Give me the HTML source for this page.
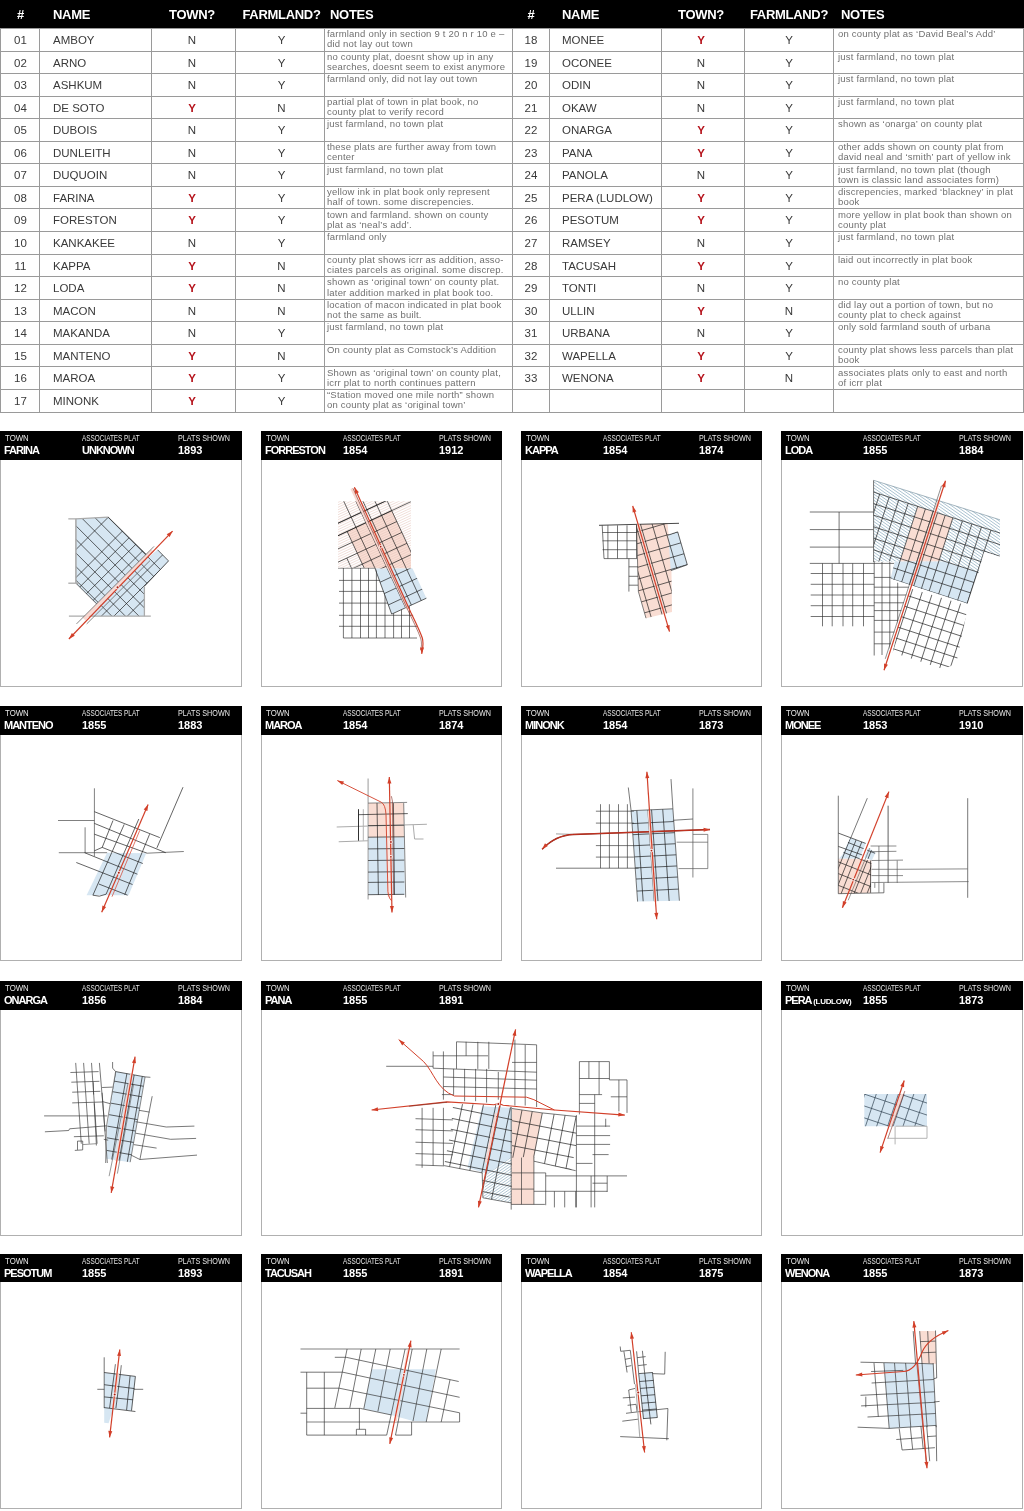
<!DOCTYPE html>
<html><head><meta charset="utf-8"><title>Associates plats</title>
<style>
html,body{margin:0;padding:0;background:#fff;}
body{width:1024px;height:1511px;position:relative;overflow:hidden;font-family:"Liberation Sans",sans-serif;}
.a{position:absolute;white-space:nowrap;}
.th{position:absolute;top:0;height:28px;background:#000;}
.hh{position:absolute;top:8px;color:#fff;font-weight:bold;font-size:13px;line-height:14px;letter-spacing:-0.3px;white-space:nowrap;}
.hl{position:absolute;background:#9a9a9a;height:1px;}
.vl{position:absolute;background:#9a9a9a;width:1px;}
.c{position:absolute;font-size:11.5px;line-height:22px;height:22px;color:#3a3a3a;white-space:nowrap;}
.ctr{text-align:center;}
.y{color:#b5121b;font-weight:bold;}
.n{position:absolute;font-size:9.5px;line-height:10.3px;color:#707070;white-space:nowrap;letter-spacing:0.2px;}
.p{position:absolute;border:1px solid #b0b0b0;box-sizing:border-box;background:#fff;}
.ph{position:absolute;background:#000;height:28.5px;}
.l1{position:absolute;top:3.1px;font-size:8.7px;line-height:9px;color:#e8e8e8;white-space:nowrap;transform-origin:0 0;}
.t1{transform:scaleX(0.9);}.t2{transform:scaleX(0.735);}.t3{transform:scaleX(0.83);}
.l2{position:absolute;top:13px;font-size:11px;line-height:12px;color:#fff;font-weight:bold;letter-spacing:-1px;white-space:nowrap;}
.l2.d{letter-spacing:0;}
.l2 small{font-size:8px;letter-spacing:-0.3px;}
svg{position:absolute;left:0;top:0;}
</style></head><body>

<div class="th" style="left:0px;width:512px"></div>
<div class="hh ctr" style="left:10.5px;width:20px">#</div>
<div class="hh" style="left:53px">NAME</div>
<div class="hh ctr" style="left:162.0px;width:60px">TOWN?</div>
<div class="hh ctr" style="left:236.5px;width:90px">FARMLAND?</div>
<div class="hh" style="left:330px">NOTES</div>
<div class="hl" style="left:0px;width:512px;top:28.00px"></div>
<div class="hl" style="left:0px;width:512px;top:50.56px"></div>
<div class="hl" style="left:0px;width:512px;top:73.12px"></div>
<div class="hl" style="left:0px;width:512px;top:95.68px"></div>
<div class="hl" style="left:0px;width:512px;top:118.24px"></div>
<div class="hl" style="left:0px;width:512px;top:140.80px"></div>
<div class="hl" style="left:0px;width:512px;top:163.36px"></div>
<div class="hl" style="left:0px;width:512px;top:185.92px"></div>
<div class="hl" style="left:0px;width:512px;top:208.48px"></div>
<div class="hl" style="left:0px;width:512px;top:231.04px"></div>
<div class="hl" style="left:0px;width:512px;top:253.60px"></div>
<div class="hl" style="left:0px;width:512px;top:276.16px"></div>
<div class="hl" style="left:0px;width:512px;top:298.72px"></div>
<div class="hl" style="left:0px;width:512px;top:321.28px"></div>
<div class="hl" style="left:0px;width:512px;top:343.84px"></div>
<div class="hl" style="left:0px;width:512px;top:366.40px"></div>
<div class="hl" style="left:0px;width:512px;top:388.96px"></div>
<div class="hl" style="left:0px;width:512px;top:411.52px"></div>
<div class="vl" style="left:0px;top:28px;height:383.52px"></div>
<div class="vl" style="left:39px;top:28px;height:383.52px"></div>
<div class="vl" style="left:151px;top:28px;height:383.52px"></div>
<div class="vl" style="left:235px;top:28px;height:383.52px"></div>
<div class="vl" style="left:324px;top:28px;height:383.52px"></div>
<div class="c ctr" style="left:5.5px;width:30px;top:29.00px">01</div>
<div class="c" style="left:53px;top:29.00px">AMBOY</div>
<div class="c ctr" style="left:177px;width:30px;top:29.00px">N</div>
<div class="c ctr" style="left:266.5px;width:30px;top:29.00px">Y</div>
<div class="n" style="left:327px;top:29.20px">farmland only in section 9 t 20 n r 10 e –<br>did not lay out town</div>
<div class="c ctr" style="left:5.5px;width:30px;top:51.56px">02</div>
<div class="c" style="left:53px;top:51.56px">ARNO</div>
<div class="c ctr" style="left:177px;width:30px;top:51.56px">N</div>
<div class="c ctr" style="left:266.5px;width:30px;top:51.56px">Y</div>
<div class="n" style="left:327px;top:51.76px">no county plat, doesnt show up in any<br>searches, doesnt seem to exist anymore</div>
<div class="c ctr" style="left:5.5px;width:30px;top:74.12px">03</div>
<div class="c" style="left:53px;top:74.12px">ASHKUM</div>
<div class="c ctr" style="left:177px;width:30px;top:74.12px">N</div>
<div class="c ctr" style="left:266.5px;width:30px;top:74.12px">Y</div>
<div class="n" style="left:327px;top:74.32px">farmland only, did not lay out town</div>
<div class="c ctr" style="left:5.5px;width:30px;top:96.68px">04</div>
<div class="c" style="left:53px;top:96.68px">DE SOTO</div>
<div class="c ctr y" style="left:177px;width:30px;top:96.68px">Y</div>
<div class="c ctr" style="left:266.5px;width:30px;top:96.68px">N</div>
<div class="n" style="left:327px;top:96.88px">partial plat of town in plat book, no<br>county plat to verify record</div>
<div class="c ctr" style="left:5.5px;width:30px;top:119.24px">05</div>
<div class="c" style="left:53px;top:119.24px">DUBOIS</div>
<div class="c ctr" style="left:177px;width:30px;top:119.24px">N</div>
<div class="c ctr" style="left:266.5px;width:30px;top:119.24px">Y</div>
<div class="n" style="left:327px;top:119.44px">just farmland, no town plat</div>
<div class="c ctr" style="left:5.5px;width:30px;top:141.80px">06</div>
<div class="c" style="left:53px;top:141.80px">DUNLEITH</div>
<div class="c ctr" style="left:177px;width:30px;top:141.80px">N</div>
<div class="c ctr" style="left:266.5px;width:30px;top:141.80px">Y</div>
<div class="n" style="left:327px;top:142.00px">these plats are further away from town<br>center</div>
<div class="c ctr" style="left:5.5px;width:30px;top:164.36px">07</div>
<div class="c" style="left:53px;top:164.36px">DUQUOIN</div>
<div class="c ctr" style="left:177px;width:30px;top:164.36px">N</div>
<div class="c ctr" style="left:266.5px;width:30px;top:164.36px">Y</div>
<div class="n" style="left:327px;top:164.56px">just farmland, no town plat</div>
<div class="c ctr" style="left:5.5px;width:30px;top:186.92px">08</div>
<div class="c" style="left:53px;top:186.92px">FARINA</div>
<div class="c ctr y" style="left:177px;width:30px;top:186.92px">Y</div>
<div class="c ctr" style="left:266.5px;width:30px;top:186.92px">Y</div>
<div class="n" style="left:327px;top:187.12px">yellow ink in plat book only represent<br>half of town. some discrepencies.</div>
<div class="c ctr" style="left:5.5px;width:30px;top:209.48px">09</div>
<div class="c" style="left:53px;top:209.48px">FORESTON</div>
<div class="c ctr y" style="left:177px;width:30px;top:209.48px">Y</div>
<div class="c ctr" style="left:266.5px;width:30px;top:209.48px">Y</div>
<div class="n" style="left:327px;top:209.68px">town and farmland. shown on county<br>plat as ‘neal’s add’.</div>
<div class="c ctr" style="left:5.5px;width:30px;top:232.04px">10</div>
<div class="c" style="left:53px;top:232.04px">KANKAKEE</div>
<div class="c ctr" style="left:177px;width:30px;top:232.04px">N</div>
<div class="c ctr" style="left:266.5px;width:30px;top:232.04px">Y</div>
<div class="n" style="left:327px;top:232.24px">farmland only</div>
<div class="c ctr" style="left:5.5px;width:30px;top:254.60px">11</div>
<div class="c" style="left:53px;top:254.60px">KAPPA</div>
<div class="c ctr y" style="left:177px;width:30px;top:254.60px">Y</div>
<div class="c ctr" style="left:266.5px;width:30px;top:254.60px">N</div>
<div class="n" style="left:327px;top:254.80px">county plat shows icrr as addition, asso-<br>ciates parcels as original. some discrep.</div>
<div class="c ctr" style="left:5.5px;width:30px;top:277.16px">12</div>
<div class="c" style="left:53px;top:277.16px">LODA</div>
<div class="c ctr y" style="left:177px;width:30px;top:277.16px">Y</div>
<div class="c ctr" style="left:266.5px;width:30px;top:277.16px">N</div>
<div class="n" style="left:327px;top:277.36px">shown as ‘original town’ on county plat.<br>later addition marked in plat book too.</div>
<div class="c ctr" style="left:5.5px;width:30px;top:299.72px">13</div>
<div class="c" style="left:53px;top:299.72px">MACON</div>
<div class="c ctr" style="left:177px;width:30px;top:299.72px">N</div>
<div class="c ctr" style="left:266.5px;width:30px;top:299.72px">N</div>
<div class="n" style="left:327px;top:299.92px">location of macon indicated in plat book<br>not the same as built.</div>
<div class="c ctr" style="left:5.5px;width:30px;top:322.28px">14</div>
<div class="c" style="left:53px;top:322.28px">MAKANDA</div>
<div class="c ctr" style="left:177px;width:30px;top:322.28px">N</div>
<div class="c ctr" style="left:266.5px;width:30px;top:322.28px">Y</div>
<div class="n" style="left:327px;top:322.48px">just farmland, no town plat</div>
<div class="c ctr" style="left:5.5px;width:30px;top:344.84px">15</div>
<div class="c" style="left:53px;top:344.84px">MANTENO</div>
<div class="c ctr y" style="left:177px;width:30px;top:344.84px">Y</div>
<div class="c ctr" style="left:266.5px;width:30px;top:344.84px">N</div>
<div class="n" style="left:327px;top:345.04px">On county plat as Comstock’s Addition</div>
<div class="c ctr" style="left:5.5px;width:30px;top:367.40px">16</div>
<div class="c" style="left:53px;top:367.40px">MAROA</div>
<div class="c ctr y" style="left:177px;width:30px;top:367.40px">Y</div>
<div class="c ctr" style="left:266.5px;width:30px;top:367.40px">Y</div>
<div class="n" style="left:327px;top:367.60px">Shown as ‘original town’ on county plat,<br>icrr plat to north continues pattern</div>
<div class="c ctr" style="left:5.5px;width:30px;top:389.96px">17</div>
<div class="c" style="left:53px;top:389.96px">MINONK</div>
<div class="c ctr y" style="left:177px;width:30px;top:389.96px">Y</div>
<div class="c ctr" style="left:266.5px;width:30px;top:389.96px">Y</div>
<div class="n" style="left:327px;top:390.16px">“Station moved one mile north” shown<br>on county plat as ‘original town’</div>
<div class="th" style="left:512px;width:512px"></div>
<div class="hh ctr" style="left:521.0px;width:20px">#</div>
<div class="hh" style="left:562px">NAME</div>
<div class="hh ctr" style="left:671.0px;width:60px">TOWN?</div>
<div class="hh ctr" style="left:744.0px;width:90px">FARMLAND?</div>
<div class="hh" style="left:841px">NOTES</div>
<div class="hl" style="left:512px;width:511.6px;top:28.00px"></div>
<div class="hl" style="left:512px;width:511.6px;top:50.56px"></div>
<div class="hl" style="left:512px;width:511.6px;top:73.12px"></div>
<div class="hl" style="left:512px;width:511.6px;top:95.68px"></div>
<div class="hl" style="left:512px;width:511.6px;top:118.24px"></div>
<div class="hl" style="left:512px;width:511.6px;top:140.80px"></div>
<div class="hl" style="left:512px;width:511.6px;top:163.36px"></div>
<div class="hl" style="left:512px;width:511.6px;top:185.92px"></div>
<div class="hl" style="left:512px;width:511.6px;top:208.48px"></div>
<div class="hl" style="left:512px;width:511.6px;top:231.04px"></div>
<div class="hl" style="left:512px;width:511.6px;top:253.60px"></div>
<div class="hl" style="left:512px;width:511.6px;top:276.16px"></div>
<div class="hl" style="left:512px;width:511.6px;top:298.72px"></div>
<div class="hl" style="left:512px;width:511.6px;top:321.28px"></div>
<div class="hl" style="left:512px;width:511.6px;top:343.84px"></div>
<div class="hl" style="left:512px;width:511.6px;top:366.40px"></div>
<div class="hl" style="left:512px;width:511.6px;top:388.96px"></div>
<div class="hl" style="left:512px;width:511.6px;top:411.52px"></div>
<div class="vl" style="left:512px;top:28px;height:383.52px"></div>
<div class="vl" style="left:549px;top:28px;height:383.52px"></div>
<div class="vl" style="left:661px;top:28px;height:383.52px"></div>
<div class="vl" style="left:744px;top:28px;height:383.52px"></div>
<div class="vl" style="left:833px;top:28px;height:383.52px"></div>
<div class="vl" style="left:1022.6px;top:28px;height:383.52px"></div>
<div class="c ctr" style="left:516px;width:30px;top:29.00px">18</div>
<div class="c" style="left:562px;top:29.00px">MONEE</div>
<div class="c ctr y" style="left:686px;width:30px;top:29.00px">Y</div>
<div class="c ctr" style="left:774px;width:30px;top:29.00px">Y</div>
<div class="n" style="left:838px;top:29.20px">on county plat as ‘David Beal’s Add’</div>
<div class="c ctr" style="left:516px;width:30px;top:51.56px">19</div>
<div class="c" style="left:562px;top:51.56px">OCONEE</div>
<div class="c ctr" style="left:686px;width:30px;top:51.56px">N</div>
<div class="c ctr" style="left:774px;width:30px;top:51.56px">Y</div>
<div class="n" style="left:838px;top:51.76px">just farmland, no town plat</div>
<div class="c ctr" style="left:516px;width:30px;top:74.12px">20</div>
<div class="c" style="left:562px;top:74.12px">ODIN</div>
<div class="c ctr" style="left:686px;width:30px;top:74.12px">N</div>
<div class="c ctr" style="left:774px;width:30px;top:74.12px">Y</div>
<div class="n" style="left:838px;top:74.32px">just farmland, no town plat</div>
<div class="c ctr" style="left:516px;width:30px;top:96.68px">21</div>
<div class="c" style="left:562px;top:96.68px">OKAW</div>
<div class="c ctr" style="left:686px;width:30px;top:96.68px">N</div>
<div class="c ctr" style="left:774px;width:30px;top:96.68px">Y</div>
<div class="n" style="left:838px;top:96.88px">just farmland, no town plat</div>
<div class="c ctr" style="left:516px;width:30px;top:119.24px">22</div>
<div class="c" style="left:562px;top:119.24px">ONARGA</div>
<div class="c ctr y" style="left:686px;width:30px;top:119.24px">Y</div>
<div class="c ctr" style="left:774px;width:30px;top:119.24px">Y</div>
<div class="n" style="left:838px;top:119.44px">shown as ‘onarga’ on county plat</div>
<div class="c ctr" style="left:516px;width:30px;top:141.80px">23</div>
<div class="c" style="left:562px;top:141.80px">PANA</div>
<div class="c ctr y" style="left:686px;width:30px;top:141.80px">Y</div>
<div class="c ctr" style="left:774px;width:30px;top:141.80px">Y</div>
<div class="n" style="left:838px;top:142.00px">other adds shown on county plat from<br>david neal and ‘smith’ part of yellow ink</div>
<div class="c ctr" style="left:516px;width:30px;top:164.36px">24</div>
<div class="c" style="left:562px;top:164.36px">PANOLA</div>
<div class="c ctr" style="left:686px;width:30px;top:164.36px">N</div>
<div class="c ctr" style="left:774px;width:30px;top:164.36px">Y</div>
<div class="n" style="left:838px;top:164.56px">just farmland, no town plat (though<br>town is classic land associates form)</div>
<div class="c ctr" style="left:516px;width:30px;top:186.92px">25</div>
<div class="c" style="left:562px;top:186.92px">PERA (LUDLOW)</div>
<div class="c ctr y" style="left:686px;width:30px;top:186.92px">Y</div>
<div class="c ctr" style="left:774px;width:30px;top:186.92px">Y</div>
<div class="n" style="left:838px;top:187.12px">discrepencies, marked ‘blackney’ in plat<br>book</div>
<div class="c ctr" style="left:516px;width:30px;top:209.48px">26</div>
<div class="c" style="left:562px;top:209.48px">PESOTUM</div>
<div class="c ctr y" style="left:686px;width:30px;top:209.48px">Y</div>
<div class="c ctr" style="left:774px;width:30px;top:209.48px">Y</div>
<div class="n" style="left:838px;top:209.68px">more yellow in plat book than shown on<br>county plat</div>
<div class="c ctr" style="left:516px;width:30px;top:232.04px">27</div>
<div class="c" style="left:562px;top:232.04px">RAMSEY</div>
<div class="c ctr" style="left:686px;width:30px;top:232.04px">N</div>
<div class="c ctr" style="left:774px;width:30px;top:232.04px">Y</div>
<div class="n" style="left:838px;top:232.24px">just farmland, no town plat</div>
<div class="c ctr" style="left:516px;width:30px;top:254.60px">28</div>
<div class="c" style="left:562px;top:254.60px">TACUSAH</div>
<div class="c ctr y" style="left:686px;width:30px;top:254.60px">Y</div>
<div class="c ctr" style="left:774px;width:30px;top:254.60px">Y</div>
<div class="n" style="left:838px;top:254.80px">laid out incorrectly in plat book</div>
<div class="c ctr" style="left:516px;width:30px;top:277.16px">29</div>
<div class="c" style="left:562px;top:277.16px">TONTI</div>
<div class="c ctr" style="left:686px;width:30px;top:277.16px">N</div>
<div class="c ctr" style="left:774px;width:30px;top:277.16px">Y</div>
<div class="n" style="left:838px;top:277.36px">no county plat</div>
<div class="c ctr" style="left:516px;width:30px;top:299.72px">30</div>
<div class="c" style="left:562px;top:299.72px">ULLIN</div>
<div class="c ctr y" style="left:686px;width:30px;top:299.72px">Y</div>
<div class="c ctr" style="left:774px;width:30px;top:299.72px">N</div>
<div class="n" style="left:838px;top:299.92px">did lay out a portion of town, but no<br>county plat to check against</div>
<div class="c ctr" style="left:516px;width:30px;top:322.28px">31</div>
<div class="c" style="left:562px;top:322.28px">URBANA</div>
<div class="c ctr" style="left:686px;width:30px;top:322.28px">N</div>
<div class="c ctr" style="left:774px;width:30px;top:322.28px">Y</div>
<div class="n" style="left:838px;top:322.48px">only sold farmland south of urbana</div>
<div class="c ctr" style="left:516px;width:30px;top:344.84px">32</div>
<div class="c" style="left:562px;top:344.84px">WAPELLA</div>
<div class="c ctr y" style="left:686px;width:30px;top:344.84px">Y</div>
<div class="c ctr" style="left:774px;width:30px;top:344.84px">Y</div>
<div class="n" style="left:838px;top:345.04px">county plat shows less parcels than plat<br>book</div>
<div class="c ctr" style="left:516px;width:30px;top:367.40px">33</div>
<div class="c" style="left:562px;top:367.40px">WENONA</div>
<div class="c ctr y" style="left:686px;width:30px;top:367.40px">Y</div>
<div class="c ctr" style="left:774px;width:30px;top:367.40px">N</div>
<div class="n" style="left:838px;top:367.60px">associates plats only to east and north<br>of icrr plat</div>
<div class="p" style="left:0px;top:431.3px;width:242px;height:255.3px"></div>
<div class="ph" style="left:0px;top:431.3px;width:242px">
<div class="l1 t1" style="left:4.5px">TOWN</div><div class="l2" style="left:4px">FARINA</div>
<div class="l1 t2" style="left:82px">ASSOCIATES PLAT</div><div class="l2" style="left:82px">UNKNOWN</div>
<div class="l1 t3" style="left:178px">PLATS SHOWN</div><div class="l2 d" style="left:178px">1893</div>
</div>
<div class="p" style="left:261px;top:431.3px;width:241px;height:255.3px"></div>
<div class="ph" style="left:261px;top:431.3px;width:241px">
<div class="l1 t1" style="left:4.5px">TOWN</div><div class="l2" style="left:4px">FORRESTON</div>
<div class="l1 t2" style="left:82px">ASSOCIATES PLAT</div><div class="l2 d" style="left:82px">1854</div>
<div class="l1 t3" style="left:178px">PLATS SHOWN</div><div class="l2 d" style="left:178px">1912</div>
</div>
<div class="p" style="left:521px;top:431.3px;width:241px;height:255.3px"></div>
<div class="ph" style="left:521px;top:431.3px;width:241px">
<div class="l1 t1" style="left:4.5px">TOWN</div><div class="l2" style="left:4px">KAPPA</div>
<div class="l1 t2" style="left:82px">ASSOCIATES PLAT</div><div class="l2 d" style="left:82px">1854</div>
<div class="l1 t3" style="left:178px">PLATS SHOWN</div><div class="l2 d" style="left:178px">1874</div>
</div>
<div class="p" style="left:781px;top:431.3px;width:242px;height:255.3px"></div>
<div class="ph" style="left:781px;top:431.3px;width:242px">
<div class="l1 t1" style="left:4.5px">TOWN</div><div class="l2" style="left:4px">LODA</div>
<div class="l1 t2" style="left:82px">ASSOCIATES PLAT</div><div class="l2 d" style="left:82px">1855</div>
<div class="l1 t3" style="left:178px">PLATS SHOWN</div><div class="l2 d" style="left:178px">1884</div>
</div>
<div class="p" style="left:0px;top:706px;width:242px;height:255px"></div>
<div class="ph" style="left:0px;top:706px;width:242px">
<div class="l1 t1" style="left:4.5px">TOWN</div><div class="l2" style="left:4px">MANTENO</div>
<div class="l1 t2" style="left:82px">ASSOCIATES PLAT</div><div class="l2 d" style="left:82px">1855</div>
<div class="l1 t3" style="left:178px">PLATS SHOWN</div><div class="l2 d" style="left:178px">1883</div>
</div>
<div class="p" style="left:261px;top:706px;width:241px;height:255px"></div>
<div class="ph" style="left:261px;top:706px;width:241px">
<div class="l1 t1" style="left:4.5px">TOWN</div><div class="l2" style="left:4px">MAROA</div>
<div class="l1 t2" style="left:82px">ASSOCIATES PLAT</div><div class="l2 d" style="left:82px">1854</div>
<div class="l1 t3" style="left:178px">PLATS SHOWN</div><div class="l2 d" style="left:178px">1874</div>
</div>
<div class="p" style="left:521px;top:706px;width:241px;height:255px"></div>
<div class="ph" style="left:521px;top:706px;width:241px">
<div class="l1 t1" style="left:4.5px">TOWN</div><div class="l2" style="left:4px">MINONK</div>
<div class="l1 t2" style="left:82px">ASSOCIATES PLAT</div><div class="l2 d" style="left:82px">1854</div>
<div class="l1 t3" style="left:178px">PLATS SHOWN</div><div class="l2 d" style="left:178px">1873</div>
</div>
<div class="p" style="left:781px;top:706px;width:242px;height:255px"></div>
<div class="ph" style="left:781px;top:706px;width:242px">
<div class="l1 t1" style="left:4.5px">TOWN</div><div class="l2" style="left:4px">MONEE</div>
<div class="l1 t2" style="left:82px">ASSOCIATES PLAT</div><div class="l2 d" style="left:82px">1853</div>
<div class="l1 t3" style="left:178px">PLATS SHOWN</div><div class="l2 d" style="left:178px">1910</div>
</div>
<div class="p" style="left:0px;top:981px;width:242px;height:255px"></div>
<div class="ph" style="left:0px;top:981px;width:242px">
<div class="l1 t1" style="left:4.5px">TOWN</div><div class="l2" style="left:4px">ONARGA</div>
<div class="l1 t2" style="left:82px">ASSOCIATES PLAT</div><div class="l2 d" style="left:82px">1856</div>
<div class="l1 t3" style="left:178px">PLATS SHOWN</div><div class="l2 d" style="left:178px">1884</div>
</div>
<div class="p" style="left:261px;top:981px;width:501px;height:255px"></div>
<div class="ph" style="left:261px;top:981px;width:501px">
<div class="l1 t1" style="left:4.5px">TOWN</div><div class="l2" style="left:4px">PANA</div>
<div class="l1 t2" style="left:82px">ASSOCIATES PLAT</div><div class="l2 d" style="left:82px">1855</div>
<div class="l1 t3" style="left:178px">PLATS SHOWN</div><div class="l2 d" style="left:178px">1891</div>
</div>
<div class="p" style="left:781px;top:981px;width:242px;height:255px"></div>
<div class="ph" style="left:781px;top:981px;width:242px">
<div class="l1 t1" style="left:4.5px">TOWN</div><div class="l2" style="left:4px">PERA <small>(LUDLOW)</small></div>
<div class="l1 t2" style="left:82px">ASSOCIATES PLAT</div><div class="l2 d" style="left:82px">1855</div>
<div class="l1 t3" style="left:178px">PLATS SHOWN</div><div class="l2 d" style="left:178px">1873</div>
</div>
<div class="p" style="left:0px;top:1253.7px;width:242px;height:255.2px"></div>
<div class="ph" style="left:0px;top:1253.7px;width:242px">
<div class="l1 t1" style="left:4.5px">TOWN</div><div class="l2" style="left:4px">PESOTUM</div>
<div class="l1 t2" style="left:82px">ASSOCIATES PLAT</div><div class="l2 d" style="left:82px">1855</div>
<div class="l1 t3" style="left:178px">PLATS SHOWN</div><div class="l2 d" style="left:178px">1893</div>
</div>
<div class="p" style="left:261px;top:1253.7px;width:241px;height:255.2px"></div>
<div class="ph" style="left:261px;top:1253.7px;width:241px">
<div class="l1 t1" style="left:4.5px">TOWN</div><div class="l2" style="left:4px">TACUSAH</div>
<div class="l1 t2" style="left:82px">ASSOCIATES PLAT</div><div class="l2 d" style="left:82px">1855</div>
<div class="l1 t3" style="left:178px">PLATS SHOWN</div><div class="l2 d" style="left:178px">1891</div>
</div>
<div class="p" style="left:521px;top:1253.7px;width:241px;height:255.2px"></div>
<div class="ph" style="left:521px;top:1253.7px;width:241px">
<div class="l1 t1" style="left:4.5px">TOWN</div><div class="l2" style="left:4px">WAPELLA</div>
<div class="l1 t2" style="left:82px">ASSOCIATES PLAT</div><div class="l2 d" style="left:82px">1854</div>
<div class="l1 t3" style="left:178px">PLATS SHOWN</div><div class="l2 d" style="left:178px">1875</div>
</div>
<div class="p" style="left:781px;top:1253.7px;width:242px;height:255.2px"></div>
<div class="ph" style="left:781px;top:1253.7px;width:242px">
<div class="l1 t1" style="left:4.5px">TOWN</div><div class="l2" style="left:4px">WENONA</div>
<div class="l1 t2" style="left:82px">ASSOCIATES PLAT</div><div class="l2 d" style="left:82px">1855</div>
<div class="l1 t3" style="left:178px">PLATS SHOWN</div><div class="l2 d" style="left:178px">1873</div>
</div>
<svg width="1024" height="1511" viewBox="0 0 1024 1511" fill="none" stroke-linecap="butt">
<polygon points="75.9,518.8 108.2,517.1 148.9,557.0 157.6,549.8 168.5,560.9 144.4,586.3 144.4,616.2 89.8,616.2 99.4,606.6 75.9,583.2" fill="#d6e6f2" stroke="none"/>
<clipPath id="c1"><polygon points="75.9,518.8 108.2,517.1 148.9,557.0 157.6,549.8 168.5,560.9 144.4,586.3 144.4,616.2 89.8,616.2 99.4,606.6 75.9,583.2"/></clipPath>
<path d="M60.0,469.1L180.0,589.1M60.0,482.7L180.0,602.7M60.0,496.3L180.0,616.3M60.0,509.9L180.0,629.9M60.0,523.5L180.0,643.5M60.0,537.1L180.0,657.1M60.0,550.7L180.0,670.7M60.0,564.3L180.0,684.3M60.0,565.5L180.0,445.5M60.0,593.5L180.0,473.5M60.0,606.8L180.0,486.8M60.0,620.1L180.0,500.1M60.0,633.5L180.0,513.5M60.0,657.5L180.0,537.5M60.0,670.0L180.0,550.0M60.0,683.5L180.0,563.5" stroke="#1a1a1a" stroke-width="0.68" clip-path="url(#c1)"/>
<polyline points="108.2,517.1 148.9,557.0" stroke="#1a1a1a" stroke-width="0.68"/>
<polyline points="157.6,549.8 168.5,560.9 144.4,586.3" stroke="#1a1a1a" stroke-width="0.68"/>
<polyline points="75.9,583.2 99.4,606.6" stroke="#1a1a1a" stroke-width="0.68"/>
<polyline points="68.3,518.9 75.9,518.8 108.2,517.1" stroke="#ababab" stroke-width="1.3"/>
<polyline points="75.9,518.8 75.9,583.2" stroke="#ababab" stroke-width="1.6"/>
<polyline points="68.3,583.2 79.0,583.2" stroke="#ababab" stroke-width="1.3"/>
<polyline points="68.9,616.2 150.8,616.2" stroke="#ababab" stroke-width="1.3"/>
<polyline points="144.4,586.3 144.4,616.2" stroke="#ababab" stroke-width="1.3"/>
<polyline points="152.5,550.4 84.0,618.9" stroke="#f8d8d1" stroke-width="3.6"/>
<polyline points="154.0,546.4 76.5,623.9" stroke="#555" stroke-width="0.7"/>
<polyline points="150.0,560.6 86.7,623.9" stroke="#555" stroke-width="0.7"/>
<polyline points="172.6,531.1 68.9,639.0" stroke="#d23f29" stroke-width="1.2" stroke-linejoin="round"/>
<polygon points="172.6,531.1 169.6,537.1 166.7,534.3" fill="#d23f29" stroke="none"/>
<polygon points="68.9,639.0 71.9,633.0 74.8,635.8" fill="#d23f29" stroke="none"/>
<circle cx="117.6" cy="587.4" r="2.0" fill="#fdf1ee" stroke="none"/><circle cx="117.6" cy="587.4" r="1.1" fill="#a81f14" stroke="none"/>
<clipPath id="c2"><polygon points="338.0,501.2 411.0,501.2 411.0,568.4 338.0,568.4"/></clipPath>
<polygon points="347.1,531.4 391.7,510.7 430.2,593.1 385.6,613.9" fill="#f9ddd3" clip-path="url(#c2)"/>
<path d="M305.9,509.8L399.5,466.2M306.9,511.9L400.4,468.3M307.8,513.9L401.4,470.3M308.8,516.0L402.3,472.3M309.7,518.0L403.3,474.4M310.7,520.0L404.2,476.4M311.6,522.1L405.2,478.4M312.6,524.1L406.1,480.5M313.5,526.2L407.1,482.5M314.5,528.2L408.0,484.6M315.4,530.2L409.0,486.6M316.4,532.3L409.9,488.6M317.3,534.3L410.9,490.7M318.3,536.3L411.8,492.7M319.2,538.4L412.8,494.8M320.2,540.4L413.7,496.8M321.1,542.5L414.7,498.8M322.1,544.5L415.6,500.9M323.0,546.5L416.6,502.9M324.0,548.6L417.5,505.0M324.9,550.6L418.5,507.0M325.9,552.7L419.4,509.0M326.8,554.7L420.4,511.1M327.8,556.7L421.3,513.1M328.7,558.8L422.3,515.2M329.7,560.8L423.2,517.2M330.6,562.9L424.2,519.2M331.6,564.9L425.1,521.3M332.5,566.9L426.1,523.3M333.5,569.0L427.0,525.3M334.4,571.0L428.0,527.4M335.4,573.1L428.9,529.4M336.3,575.1L429.9,531.5M337.3,577.1L430.8,533.5M338.2,579.2L431.8,535.5M339.2,581.2L432.7,537.6M340.1,583.2L433.7,539.6M341.1,585.3L434.6,541.7M342.0,587.3L435.6,543.7M343.0,589.4L436.5,545.7M343.9,591.4L437.5,547.8M344.9,593.4L438.5,549.8M345.9,595.5L439.4,551.9M346.8,597.5L440.4,553.9M347.8,599.6L441.3,555.9M348.7,601.6L442.3,558.0" stroke="#e6c4bb" stroke-width="0.55" clip-path="url(#c2)"/>
<polygon points="375.0,568.4 412.5,568.4 426.4,598.2 391.7,614.1" fill="#d6e6f2" stroke="none"/>
<clipPath id="c3"><polygon points="375.0,568.4 412.5,568.4 426.4,598.2 391.7,614.1"/></clipPath>
<path d="M308.5,537.0L417.2,486.3M313.2,547.3L391.7,510.7M318.3,558.1L396.8,521.5M323.4,569.0L401.9,532.4M328.4,579.9L406.9,543.3M333.5,590.8L412.0,554.2M308.5,537.0L426.3,482.1M313.2,547.3L431.0,492.3M346.8,558.1L362.4,591.6M347.1,531.4L372.9,586.7M335.2,482.9L381.7,582.6M345.2,478.3L391.7,578.0M351.0,475.6L397.5,575.3M360.9,471.0L407.3,570.7M371.0,466.2L412.0,554.2" stroke="#1a1a1a" stroke-width="0.68" clip-path="url(#c2)"/>
<polyline points="338.0,568.4 376.0,568.4" stroke="#ababab" stroke-width="1.2"/>
<path d="M379.0,550.8L408.6,614.2M384.8,548.1L414.4,611.5M394.7,543.5L424.2,606.9M374.8,584.7L420.2,563.6M379.9,595.6L425.2,574.5M385.0,606.5L430.3,585.3" stroke="#1a1a1a" stroke-width="0.68" clip-path="url(#c3)"/>
<polyline points="375.0,568.4 391.7,614.1 426.4,598.2" stroke="#1a1a1a" stroke-width="0.68"/>
<clipPath id="c4"><polygon points="339.0,566.0 375.0,566.0 391.7,614.1 409.5,606.0 412.0,612.7 418.0,626.9 421.5,638.6 339.0,638.6"/></clipPath>
<path d="M343.4,568.0L343.4,638.0M351.9,568.0L351.9,638.0M360.5,568.0L360.5,638.0M368.5,568.0L368.5,638.0M376.4,568.0L376.4,638.0M385.0,568.0L385.0,638.0M393.6,568.0L393.6,638.0M401.5,568.0L401.5,638.0M409.5,568.0L409.5,638.0M339.0,580.4L425.0,580.4M339.0,591.4L425.0,591.4M339.0,603.1L425.0,603.1M339.0,615.3L425.0,615.3M339.0,626.3L425.0,626.3" stroke="#333" stroke-width="0.68" clip-path="url(#c4)"/>
<polyline points="343.4,638.0 417.0,638.0" stroke="#333" stroke-width="0.68"/>
<polyline points="351.6,488.5 407.8,609.1" stroke="#f8d8d1" stroke-width="2.6"/>
<path d="M353.0,488.3 L409.3,613.2 C412.6,620 418.6,632 420.9,639 C421.8,643 421.6,647 420.6,650" stroke="#7a2a20" stroke-width="0.6"/>
<path d="M354.4,487.3 L410.7,612.2 C414,619 420,631 422.3,638 C423.4,642 423,648 421.7,653.9" stroke="#d23f29" stroke-width="1.2"/>
<polygon points="354.4,487.3 358.9,492.3 355.2,494.0" fill="#d23f29" stroke="none"/>
<polygon points="421.7,653.9 420.0,647.4 424.0,647.6" fill="#d23f29" stroke="none"/>
<circle cx="380.7" cy="546.7" r="1.8" fill="#fdf1ee" stroke="none"/><circle cx="380.7" cy="546.7" r="0.9" fill="#a81f14" stroke="none"/>
<polygon points="636.5,524.3 667.6,523.6 671.4,566.2 672.0,611.9 646.0,618.2 638.4,591.6" fill="#f9ddd3" stroke="none"/>
<polygon points="668.2,535.1 677.7,531.9 687.3,564.8 670.8,570.6" fill="#d6e6f2" stroke="none"/>
<clipPath id="c5"><polygon points="636.5,524.3 667.6,523.6 671.4,566.2 672.0,611.9 646.0,618.2 638.4,591.6"/><polygon points="668.2,535.1 677.7,531.9 687.3,564.8 670.8,570.6"/></clipPath>
<path d="M623.6,523.0L653.1,623.8M634.4,519.8L663.9,620.6M638.8,518.6L668.3,619.3M649.6,515.4L679.0,616.2M660.3,512.3L689.8,613.0M616.1,538.0L678.4,519.8M619.3,549.0L681.6,530.7M622.5,559.9L684.8,541.7M625.7,570.8L688.0,552.6M628.9,581.8L691.2,563.5M632.1,592.7L694.4,574.5M635.3,603.7L697.6,585.4M638.5,614.6L700.8,596.4" stroke="#1a1a1a" stroke-width="0.68" clip-path="url(#c5)"/>
<polyline points="668.2,535.1 677.7,531.9 687.3,564.8 670.8,570.6" stroke="#1a1a1a" stroke-width="0.68"/>
<polyline points="636.5,524.3 638.4,591.6 646.0,618.2" stroke="#444" stroke-width="0.68"/>
<path d="M607.9,525.3L607.9,558.6M617.5,525.3L617.5,558.6M627.0,525.3L627.0,558.6M636.5,525.3L636.5,558.6M602.5,532.5L636.8,532.5M602.5,540.8L636.8,540.8M602.5,549.7L636.8,549.7" stroke="#333" stroke-width="0.68"/>
<polyline points="602.2,525.3 604.0,558.6 636.8,558.6" stroke="#333" stroke-width="0.68"/>
<polyline points="628.9,558.6 628.9,591.6" stroke="#333" stroke-width="0.68"/>
<path d="M628.9,566.8L638.0,566.8M628.9,576.3L638.0,576.3M628.9,585.2L638.0,585.2" stroke="#333" stroke-width="0.68"/>
<polyline points="599.0,525.3 679.0,523.3" stroke="#333" stroke-width="0.9"/>
<polyline points="632.7,505.9 669.5,631.6" stroke="#f8d8d1" stroke-width="2.8" clip-path="url(#c5)"/>
<polyline points="632.7,505.9 669.5,631.6" stroke="#d23f29" stroke-width="1.2" stroke-linejoin="round"/>
<polygon points="632.7,505.9 636.4,511.5 632.6,512.6" fill="#d23f29" stroke="none"/>
<polygon points="669.5,631.6 665.8,626.0 669.6,624.9" fill="#d23f29" stroke="none"/>
<clipPath id="c6"><polygon points="873.6,480.3 1000.0,519.8 1000.0,556.7 984.3,551.7 979.7,567.3 978.4,573.2 944.1,561.4 873.6,561.4"/></clipPath>
<path d="M916.6,414.2L1049.3,507.1M915.2,416.2L1047.9,509.2M913.7,418.3L1046.4,511.2M912.3,420.3L1045.0,513.3M910.9,422.4L1043.6,515.3M909.4,424.4L1042.1,517.3M908.0,426.5L1040.7,519.4M906.6,428.5L1039.3,521.4M905.1,430.6L1037.8,523.5M903.7,432.6L1036.4,525.5M902.3,434.7L1035.0,527.6M900.8,436.7L1033.5,529.6M899.4,438.8L1032.1,531.7M898.0,440.8L1030.7,533.7M896.5,442.9L1029.2,535.8M895.1,444.9L1027.8,537.8M893.7,447.0L1026.4,539.9M892.2,449.0L1024.9,541.9M890.8,451.0L1023.5,544.0M889.4,453.1L1022.1,546.0M887.9,455.1L1020.6,548.1M886.5,457.2L1019.2,550.1M885.1,459.2L1017.8,552.2M883.6,461.3L1016.3,554.2M882.2,463.3L1014.9,556.3M880.8,465.4L1013.5,558.3M879.3,467.4L1012.0,560.4M877.9,469.5L1010.6,562.4M876.5,471.5L1009.2,564.4M875.0,473.6L1007.7,566.5M873.6,475.6L1006.3,568.5M872.2,477.7L1004.9,570.6M870.7,479.7L1003.4,572.6M869.3,481.8L1002.0,574.7M867.9,483.8L1000.6,576.7M866.4,485.9L999.1,578.8M865.0,487.9L997.7,580.8M863.6,490.0L996.3,582.9M862.1,492.0L994.8,584.9M860.7,494.1L993.4,587.0M859.3,496.1L992.0,589.0M857.8,498.1L990.5,591.1M856.4,500.2L989.1,593.1M854.9,502.2L987.7,595.2M853.5,504.3L986.2,597.2M852.1,506.3L984.8,599.3M850.6,508.4L983.4,601.3M849.2,510.4L981.9,603.4M847.8,512.5L980.5,605.4M846.3,514.5L979.1,607.5M844.9,516.6L977.6,609.5M843.5,518.6L976.2,611.5M842.0,520.7L974.7,613.6M840.6,522.7L973.3,615.6M839.2,524.8L971.9,617.7M837.7,526.8L970.4,619.7M836.3,528.9L969.0,621.8M834.9,530.9L967.6,623.8M833.4,533.0L966.1,625.9M832.0,535.0L964.7,627.9M830.6,537.1L963.3,630.0M829.1,539.1L961.8,632.0M827.7,541.2L960.4,634.1M826.3,543.2L959.0,636.1M824.8,545.3L957.5,638.2" stroke="#86a9bd" stroke-width="0.7" clip-path="url(#c6)"/>
<polygon points="917.8,506.9 952.9,518.3 934.8,573.9 899.7,562.6" fill="#f9ddd3" clip-path="url(#c6)"/>
<polygon points="894.7,561.4 944.1,561.4 977.4,572.0 967.2,603.4 890.6,578.5" fill="#d6e6f2" stroke="none"/>
<clipPath id="c7"><polygon points="873.6,480.3 1000.0,519.8 1000.0,556.7 984.3,551.7 979.7,567.3 978.4,573.2 944.1,561.4 873.6,561.4"/><polygon points="894.7,561.4 944.1,561.4 977.4,572.0 967.2,603.4 890.6,578.5"/></clipPath>
<path d="M870.2,490.9L841.8,578.5M879.7,494.0L851.3,581.5M889.2,497.1L860.8,584.6M898.7,500.2L870.3,587.7M908.2,503.3L879.8,590.8M917.7,506.4L889.3,593.9M925.4,508.9L897.0,596.4M933.1,511.4L904.7,598.9M937.5,512.8L909.1,600.3M945.2,515.3L916.8,602.8M952.9,517.8L924.5,605.3M962.4,520.9L934.0,608.4M971.9,524.0L943.5,611.5M981.4,527.1L953.0,614.6M991.0,530.1L962.6,617.7M859.2,487.4L1006.7,535.2M855.8,497.9L1003.3,545.7M852.4,508.3L999.9,556.2M849.0,518.8L996.5,566.6M845.6,529.2L993.1,577.1M842.2,539.7L989.7,587.6M838.8,550.2L986.3,598.0M835.5,560.6L982.9,608.5" stroke="#1a1a1a" stroke-width="0.68" clip-path="url(#c7)"/>
<polyline points="873.6,480.3 1000.0,519.8" stroke="#6f8a99" stroke-width="0.6"/>
<polyline points="967.2,603.4 977.4,572.0" stroke="#1a1a1a" stroke-width="0.68"/>
<polyline points="873.6,480.3 873.6,562.0" stroke="#333" stroke-width="0.68"/>
<clipPath id="c8"><polygon points="906.4,587.2 968.0,605.7 956.3,663.4 943.6,669.2 892.8,652.6"/></clipPath>
<path d="M916.8,576.5L886.0,671.6M926.3,579.6L895.5,674.7M935.8,582.7L905.0,677.8M945.4,585.8L914.5,680.9M954.9,588.9L924.0,684.0M964.4,592.0L933.5,687.1M973.9,595.0L943.0,690.2M983.4,598.1L952.5,693.3M908.1,595.8L984.2,620.5M904.8,606.3L980.8,630.9M901.4,616.7L977.5,641.4M898.0,627.2L974.1,651.9M894.6,637.6L970.7,662.3M891.2,648.1L967.3,672.8" stroke="#1a1a1a" stroke-width="0.68" clip-path="url(#c8)"/>
<clipPath id="c9"><polygon points="874.2,561.8 894.7,561.4 890.7,580.5 909.0,586.5 887.0,655.5 874.2,655.5"/></clipPath>
<path d="M882.0,562.0L882.0,655.0M889.8,562.0L889.8,655.0M897.7,562.0L897.7,655.0M874.0,577.4L912.0,577.4M874.0,587.2L912.0,587.2M874.0,595.0L912.0,595.0M874.0,602.8L912.0,602.8M874.0,610.6L912.0,610.6M874.0,620.4L912.0,620.4M874.0,632.1L912.0,632.1M874.0,643.8L912.0,643.8" stroke="#333" stroke-width="0.68" clip-path="url(#c9)"/>
<polyline points="874.2,561.8 874.2,655.5" stroke="#333" stroke-width="0.68"/>
<path d="M809.8,512.0L873.4,512.0M809.8,529.6L873.4,529.6M809.8,547.1L873.4,547.1M809.8,563.4L894.0,563.4M839.1,512.0L839.1,563.4" stroke="#333" stroke-width="0.68"/>
<path d="M822.5,563.4L822.5,626.3M832.2,563.4L832.2,626.3M843.0,563.4L843.0,626.3M852.7,563.4L852.7,626.3M863.5,563.4L863.5,626.3M810.7,573.5L874.2,573.5M810.7,584.3L874.2,584.3M810.7,595.0L874.2,595.0M810.7,605.7L874.2,605.7M810.7,616.5L874.2,616.5" stroke="#333" stroke-width="0.68"/>
<polyline points="945.5,480.7 886.8,661.4" stroke="#f8d8d1" stroke-width="2.6" clip-path="url(#c7)"/>
<polyline points="941.5,485.7 885.3,658.8" stroke="#444" stroke-width="0.6"/>
<polyline points="945.5,480.7 884.0,670.2" stroke="#d23f29" stroke-width="1.2" stroke-linejoin="round"/>
<polygon points="945.5,480.7 945.4,487.4 941.6,486.2" fill="#d23f29" stroke="none"/>
<polygon points="884.0,670.2 884.1,663.5 887.9,664.7" fill="#d23f29" stroke="none"/>
<polygon points="107.1,852.7 146.2,853.2 128.6,895.2 86.6,895.2" fill="#d6e6f2" stroke="none"/>
<polyline points="94.4,788.3 94.4,856.2" stroke="#444" stroke-width="0.68"/>
<polyline points="58.0,820.5 94.4,820.5" stroke="#444" stroke-width="0.68"/>
<polyline points="85.1,827.3 85.1,852.7" stroke="#444" stroke-width="0.68"/>
<polyline points="58.8,852.7 107.1,852.7" stroke="#444" stroke-width="0.68"/>
<polyline points="147.1,853.2 183.8,851.5" stroke="#444" stroke-width="0.68"/>
<path d="M94.4,811.7L159.8,837.6M94.4,823.4L165.7,852.7M94.4,834.2L147.1,853.2M102.2,847.4L142.8,863.5M102.2,847.4L94.4,850.8M84.6,852.7L137.4,874.2M76.3,862.5L132.5,884.5M98.8,884.0L127.6,895.2M113.0,820.5L102.2,847.4M124.2,824.4L92.9,895.2M138.8,819.0L106.1,894.2M149.6,834.2L124.7,894.7M183.0,787.2L156.9,847.9" stroke="#1a1a1a" stroke-width="0.68"/>
<polyline points="92.9,895.2 99.3,896.2 106.1,894.2" stroke="#1a1a1a" stroke-width="0.68"/>
<polyline points="139.8,830.3 112.0,896.7" stroke="#d23f29" stroke-width="0.7"/>
<polyline points="148.1,804.4 101.7,912.2" stroke="#d23f29" stroke-width="1.2" stroke-linejoin="round"/>
<polygon points="148.1,804.4 147.4,811.1 143.7,809.5" fill="#d23f29" stroke="none"/>
<polygon points="101.7,912.2 102.4,905.5 106.1,907.1" fill="#d23f29" stroke="none"/>
<circle cx="118.8" cy="872.8" r="1.9" fill="#fdf1ee" stroke="none"/><circle cx="118.8" cy="872.8" r="1.0" fill="#a81f14" stroke="none"/>
<polygon points="368.1,803.1 403.9,803.1 403.9,837.3 368.1,837.3" fill="#f9ddd3" stroke="none"/>
<polygon points="368.1,837.3 404.3,837.3 404.8,894.7 368.1,894.7" fill="#d6e6f2" stroke="none"/>
<polyline points="386.6,814.7 392.0,814.7 392.0,896.7 387.2,896.7" stroke="#f8d8d1" stroke-width="0.1"/>
<polygon points="386.8,814.7 391.8,814.7 392.0,896.7 387.5,896.7" fill="#fbe6e0" stroke="none"/>
<polyline points="368.1,778.5 368.1,899.5" stroke="#ababab" stroke-width="1.2"/>
<polyline points="403.7,803.1 405.7,897.5" stroke="#777" stroke-width="0.9"/>
<polyline points="336.7,827.0 426.9,824.3" stroke="#ababab" stroke-width="1.1"/>
<polyline points="338.7,841.8 368.1,840.7" stroke="#ababab" stroke-width="1.1"/>
<polyline points="363.3,809.2 363.3,840.7" stroke="#ababab" stroke-width="0.9"/>
<polyline points="413.2,824.9 414.6,839.0 423.5,839.0" stroke="#ababab" stroke-width="1.0"/>
<polyline points="358.5,809.2 358.5,840.7" stroke="#1a1a1a" stroke-width="0.9"/>
<polyline points="358.5,814.7 407.8,813.6" stroke="#1a1a1a" stroke-width="0.68"/>
<polyline points="368.1,803.1 407.1,802.4" stroke="#555" stroke-width="0.68"/>
<path d="M368.1,825.6L404.3,825.2M368.1,837.2L404.3,836.8M368.1,848.9L404.3,848.5M368.1,860.5L404.3,860.1M368.1,872.1L404.3,871.7M368.1,882.4L404.3,882.0M368.1,894.7L404.3,894.3M377.0,803.1L378.4,894.7M393.4,803.1L394.5,894.7" stroke="#1a1a1a" stroke-width="0.68"/>
<path d="M337.3,780.5 L381.1,802.1 Q385.5,804.4 386.0,814.7 L387.9,891.3 Q388.6,898.1 391.6,900.8" stroke="#d23f29" stroke-width="0.9"/>
<polygon points="337.3,780.5 344.0,781.5 342.2,785.1" fill="#d23f29" stroke="none"/>
<polyline points="391.4,796.2 392.4,801.0 393.7,894.7" stroke="#7a2a20" stroke-width="0.6"/>
<polyline points="389.3,777.1 392.0,912.4" stroke="#d23f29" stroke-width="1.2" stroke-linejoin="round"/>
<polygon points="389.3,777.1 391.4,783.4 387.4,783.5" fill="#d23f29" stroke="none"/>
<polygon points="392.0,912.4 389.9,906.1 393.9,906.0" fill="#d23f29" stroke="none"/>
<circle cx="390.9" cy="842.0" r="1.8" fill="#fdf1ee" stroke="none"/><circle cx="390.9" cy="842.0" r="0.9" fill="#a81f14" stroke="none"/>
<circle cx="390.9" cy="856.8" r="1.8" fill="#fdf1ee" stroke="none"/><circle cx="390.9" cy="856.8" r="0.9" fill="#a81f14" stroke="none"/>
<polygon points="631.1,810.7 672.9,808.8 679.4,900.7 637.6,901.6" fill="#d6e6f2" stroke="none"/>
<clipPath id="c10"><polygon points="631.1,810.7 672.9,808.8 679.4,900.7 637.6,901.6"/></clipPath>
<path d="M600.5,804.2L600.5,868.2M609.4,804.2L609.4,868.2M618.5,804.2L618.5,868.2M627.4,804.2L627.4,868.2" stroke="#3a3a3a" stroke-width="0.68"/>
<path d="M595.9,811.2L633.9,811.2M595.9,823.1L633.9,823.1M595.9,845.6L633.9,845.6M595.9,857.1L633.9,857.1M556.0,868.2L638.6,868.2" stroke="#3a3a3a" stroke-width="0.68"/>
<path d="M636.7,808.8L643.2,901.6M647.8,808.8L654.3,901.6M651.5,808.8L658.0,901.6M662.7,808.8L669.2,901.6M630.2,823.7L680.3,821.2M630.2,834.8L680.3,832.4M630.2,845.9L680.3,843.5M630.2,857.1L680.3,854.6M630.2,868.2L680.3,865.8M630.2,879.3L680.3,876.9M630.2,891.4L680.3,889.0" stroke="#1a1a1a" stroke-width="0.68" clip-path="url(#c10)"/>
<polyline points="628.3,787.5 631.1,810.7 637.6,901.6" stroke="#3a3a3a" stroke-width="0.68"/>
<polyline points="671.0,779.1 672.9,808.8 679.4,900.7" stroke="#3a3a3a" stroke-width="0.68"/>
<polyline points="631.1,810.7 672.9,808.8" stroke="#3a3a3a" stroke-width="0.68"/>
<polyline points="692.9,788.4 692.9,877.5" stroke="#666" stroke-width="0.8"/>
<polyline points="672.9,820.3 692.9,819.0" stroke="#3a3a3a" stroke-width="0.68"/>
<polyline points="692.9,834.4 707.8,834.4 707.8,868.6 678.5,868.6" stroke="#555" stroke-width="0.68"/>
<polyline points="676.6,842.2 707.8,842.2" stroke="#555" stroke-width="0.68"/>
<polyline points="556.0,833.9 574.5,834.4" stroke="#888" stroke-width="0.8"/>
<path d="M710.0,829.6 L573.6,834.4 C561.5,834.8 550.4,840.4 542.1,849.3" stroke="#8e2418" stroke-width="1.5"/>
<path d="M710.0,829.6 L573.6,834.4 C561.5,834.8 550.4,840.4 542.1,849.3" stroke="#c93523" stroke-width="0.9"/>
<polygon points="710.0,829.6 703.7,831.8 703.5,827.8" fill="#d23f29" stroke="none"/>
<polygon points="542.1,849.3 545.0,843.2 547.9,846.0" fill="#d23f29" stroke="none"/>
<polyline points="648.8,810.7 655.4,901.6" stroke="#f8d8d1" stroke-width="2.4"/>
<polyline points="646.9,771.7 656.7,919.2" stroke="#d23f29" stroke-width="1.2" stroke-linejoin="round"/>
<polygon points="646.9,771.7 649.3,778.0 645.3,778.2" fill="#d23f29" stroke="none"/>
<polygon points="656.7,919.2 654.3,913.0 658.3,912.7" fill="#d23f29" stroke="none"/>
<circle cx="651.5" cy="850.6" r="1.8" fill="#fdf1ee" stroke="none"/><circle cx="651.5" cy="850.6" r="0.9" fill="#a81f14" stroke="none"/>
<polygon points="850.2,837.7 865.7,843.4 859.5,858.8 838.6,858.8 842.4,854.7" fill="#d6e6f2" stroke="none"/>
<polygon points="868.1,848.0 875.6,852.5 871.8,860.5 864.5,857.2" fill="#d6e6f2" stroke="none"/>
<polygon points="838.3,858.8 859.8,858.8 871.5,860.5 870.6,892.8 838.3,893.7" fill="#f9ddd3" stroke="none"/>
<clipPath id="c11"><polygon points="850.2,837.7 865.7,843.4 859.5,858.8 838.6,858.8 842.4,854.7"/><polygon points="868.1,848.0 875.6,852.5 871.8,860.5 864.5,857.2"/><polygon points="838.3,858.8 859.8,858.8 871.5,860.5 870.6,892.8 838.3,893.7"/></clipPath>
<path d="M858.8,817.2L825.3,900.7M864.3,819.4L830.9,903.0M869.9,821.6L836.5,905.2M881.1,826.1L847.6,909.6M886.6,828.3L853.2,911.9M892.2,830.5L858.8,914.1M841.5,828.0L897.2,850.3M837.4,838.2L893.1,860.5M833.4,848.3L889.1,870.6M829.4,858.3L885.1,880.6M825.3,868.4L881.1,890.7M821.3,878.5L877.0,900.8" stroke="#1a1a1a" stroke-width="0.68" clip-path="url(#c11)"/>
<polyline points="838.3,833.1 865.7,843.4" stroke="#1a1a1a" stroke-width="0.68"/>
<polyline points="838.3,846.4 862.3,855.0" stroke="#1a1a1a" stroke-width="0.68"/>
<polyline points="870.6,860.5 870.6,892.8" stroke="#1a1a1a" stroke-width="0.68"/>
<polyline points="838.3,795.7 838.3,893.7 883.9,892.8 883.9,882.9" stroke="#3a3a3a" stroke-width="0.68"/>
<polyline points="867.3,798.2 850.7,838.1" stroke="#3a3a3a" stroke-width="0.68"/>
<polyline points="888.1,805.7 888.1,882.9" stroke="#3a3a3a" stroke-width="0.8"/>
<polyline points="967.7,798.2 967.7,897.8" stroke="#3a3a3a" stroke-width="0.68"/>
<path d="M897.2,869.3L967.7,868.9M871.5,882.5L968.6,881.6M870.6,846.0L896.4,846.0M870.6,851.7L896.4,851.3M871.5,860.5L903.0,860.1M871.5,869.3L897.2,869.3M871.5,875.6L903.0,875.6M878.9,846.0L878.9,892.8M897.2,860.5L897.2,882.9M874.8,882.9L874.8,887.9" stroke="#555" stroke-width="0.68"/>
<polyline points="848.2,900.3 869.8,848.0" stroke="#555" stroke-width="0.6"/>
<polyline points="888.9,791.6 842.4,907.8" stroke="#d23f29" stroke-width="1.2" stroke-linejoin="round"/>
<polygon points="888.9,791.6 888.4,798.3 884.7,796.8" fill="#d23f29" stroke="none"/>
<polygon points="842.4,907.8 842.9,901.1 846.6,902.6" fill="#d23f29" stroke="none"/>
<circle cx="853.2" cy="879.6" r="1.8" fill="#fdf1ee" stroke="none"/><circle cx="853.2" cy="879.6" r="0.9" fill="#a81f14" stroke="none"/>
<polygon points="115.6,1071.6 145.1,1076.9 130.2,1162.2 106.5,1158.7 107.3,1126.1" fill="#d6e6f2" stroke="none"/>
<clipPath id="c12"><polygon points="115.6,1071.6 145.1,1076.9 130.2,1162.2 106.5,1158.7 107.3,1126.1"/></clipPath>
<path d="M117.1,1063.7L99.5,1164.2M128.3,1065.6L110.6,1166.1M135.6,1066.9L117.9,1167.4M143.7,1068.4L126.1,1168.8M100.8,1078.8L150.0,1087.4M98.9,1089.3L148.2,1097.9M96.9,1100.7L146.2,1109.4M94.9,1112.2L144.2,1120.8M92.9,1123.6L142.2,1132.2M90.9,1135.0L140.2,1143.6M88.8,1147.3L138.0,1155.9" stroke="#1a1a1a" stroke-width="0.68" clip-path="url(#c12)"/>
<polyline points="115.6,1071.6 145.1,1076.9" stroke="#1a1a1a" stroke-width="0.68"/>
<polyline points="145.1,1076.9 130.2,1162.2" stroke="#555" stroke-width="0.68"/>
<polyline points="112.6,1062.0 112.6,1068.1 115.6,1071.6" stroke="#3a3a3a" stroke-width="0.68"/>
<polyline points="115.6,1071.6 106.5,1126.1 105.6,1163.0" stroke="#555" stroke-width="0.68"/>
<polyline points="145.1,1076.9 150.4,1077.3" stroke="#3a3a3a" stroke-width="0.68"/>
<path d="M75.7,1062.9L81.3,1143.7M83.6,1062.9L89.2,1143.7M91.5,1062.9L97.1,1143.7M99.4,1062.9L105.1,1131.4M102.1,1092.7L107.3,1163.0M70.4,1072.5L98.6,1071.6M71.3,1082.2L99.4,1081.3M72.2,1092.2L100.3,1091.3M72.2,1102.9L102.1,1102.0M73.9,1136.7L103.8,1135.8M44.1,1115.9L107.3,1115.9M69.6,1128.8L106.5,1125.8M102.1,1087.5L112.6,1087.1M102.1,1101.5L110.0,1103.6M103.8,1139.3L108.2,1140.2M93.3,1082.2L93.6,1094.5M94.2,1103.3L96.4,1145.5" stroke="#3a3a3a" stroke-width="0.68"/>
<polyline points="44.9,1131.8 68.7,1130.5 69.6,1128.8" stroke="#3a3a3a" stroke-width="0.68"/>
<polyline points="74.8,1150.4 82.7,1149.9 82.7,1141.1 77.5,1141.1 77.5,1149.9" stroke="#3a3a3a" stroke-width="0.68"/>
<polyline points="82.7,1144.6 96.4,1143.7" stroke="#666" stroke-width="0.68"/>
<polyline points="135.5,1121.7 166.2,1127.0 194.4,1126.1" stroke="#3a3a3a" stroke-width="0.68"/>
<polyline points="135.5,1133.2 170.6,1139.3 196.1,1138.4" stroke="#3a3a3a" stroke-width="0.68"/>
<polyline points="133.7,1144.6 156.6,1148.1" stroke="#3a3a3a" stroke-width="0.68"/>
<polyline points="131.1,1155.1 139.9,1159.5 197.0,1155.1" stroke="#3a3a3a" stroke-width="0.68"/>
<polyline points="152.2,1096.2 139.9,1159.5" stroke="#3a3a3a" stroke-width="0.68"/>
<polyline points="139.0,1110.3 149.5,1112.1" stroke="#3a3a3a" stroke-width="0.68"/>
<polyline points="131.6,1073.4 116.5,1161.3" stroke="#f8d8d1" stroke-width="2.6"/>
<polyline points="127.9,1083.9 109.1,1176.2" stroke="#555" stroke-width="0.6"/>
<polyline points="133.7,1083.9 117.4,1173.6" stroke="#555" stroke-width="0.6"/>
<polyline points="135.1,1056.7 111.2,1192.9" stroke="#d23f29" stroke-width="1.2" stroke-linejoin="round"/>
<polygon points="135.1,1056.7 136.0,1063.3 132.0,1062.7" fill="#d23f29" stroke="none"/>
<polygon points="111.2,1192.9 110.3,1186.3 114.3,1187.0" fill="#d23f29" stroke="none"/>
<polygon points="482.2,1106.3 512.2,1107.8 511.5,1156.8 487.3,1173.7 467.5,1167.8" fill="#d6e6f2" stroke="none"/>
<polygon points="512.0,1108.5 542.0,1112.9 533.9,1156.8 533.9,1204.4 511.2,1204.4" fill="#f9ddd3" stroke="none"/>
<clipPath id="c13"><polygon points="487.3,1173.7 511.5,1156.8 511.5,1203.0 482.9,1197.8"/></clipPath>
<path d="M453.7,1172.3L505.2,1136.2M455.1,1174.2L506.5,1138.1M456.4,1176.1L507.9,1140.0M457.7,1177.9L509.2,1141.9M459.0,1179.8L510.5,1143.8M460.3,1181.7L511.8,1145.7M461.7,1183.6L513.1,1147.6M463.0,1185.5L514.4,1149.4M464.3,1187.4L515.8,1151.3M465.6,1189.2L517.1,1153.2M466.9,1191.1L518.4,1155.1M468.3,1193.0L519.7,1157.0M469.6,1194.9L521.0,1158.9M470.9,1196.8L522.4,1160.7M472.2,1198.7L523.7,1162.6M473.5,1200.5L525.0,1164.5M474.9,1202.4L526.3,1166.4M476.2,1204.3L527.6,1168.3M477.5,1206.2L529.0,1170.2M478.8,1208.1L530.3,1172.0M480.1,1210.0L531.6,1173.9M481.5,1211.9L532.9,1175.8M482.8,1213.7L534.2,1177.7M484.1,1215.6L535.6,1179.6M485.4,1217.5L536.9,1181.5M486.7,1219.4L538.2,1183.3M488.0,1221.3L539.5,1185.2M489.4,1223.2L540.8,1187.1" stroke="#86a9bd" stroke-width="0.65" clip-path="url(#c13)"/>
<path d="M456.5,1041.8L536.6,1044.8M433.1,1055.8L488.0,1055.8M433.1,1068.2L536.6,1072.2M443.4,1077.0L536.6,1080.2M443.4,1086.5L536.6,1089.0M441.9,1094.6L452.9,1094.6M433.1,1051.4L433.1,1068.2M443.4,1051.4L443.4,1099.7M456.5,1041.8L456.5,1068.9M453.6,1068.9L453.6,1095.3M466.1,1041.8L466.1,1055.8M464.6,1068.9L464.6,1101.2M477.8,1041.8L477.8,1068.9M475.6,1068.9L475.6,1101.2M488.8,1041.8L488.8,1068.9M486.6,1068.9L486.6,1102.6M498.3,1071.9L498.3,1099.7M386.2,1066.3L433.1,1066.3M512.0,1062.4L536.6,1062.4M514.9,1039.6L514.9,1105.6M525.2,1044.8L525.2,1105.6M536.6,1044.8L536.6,1107.0M579.4,1061.6L609.4,1061.6M579.4,1061.6L579.4,1114.4M588.9,1061.6L588.9,1078.5M599.1,1061.6L599.1,1094.6M609.4,1061.6L609.4,1079.9M609.4,1079.9L627.0,1079.9M618.9,1079.9L618.9,1111.4M627.0,1079.9L627.0,1112.9M579.4,1078.5L609.4,1078.5M579.4,1094.6L602.1,1094.6M610.8,1096.8L627.0,1096.8M579.4,1103.4L594.7,1103.4M594.7,1094.6L594.7,1207.4M422.1,1107.8L422.1,1167.8M433.1,1107.8L433.1,1165.6M443.4,1107.8L443.4,1165.6M415.5,1118.7L452.9,1119.9M415.5,1129.7L452.9,1130.9M415.5,1142.2L452.9,1143.4M415.5,1153.6L452.9,1154.8M415.5,1164.9L444.1,1165.9M576.4,1115.1L576.4,1207.4M607.2,1175.9L607.2,1192.0M576.4,1126.1L610.1,1126.1M576.4,1135.6L610.1,1135.6M576.4,1144.4L610.1,1144.4M592.5,1154.6L608.6,1154.6M576.4,1163.4L592.5,1163.4M545.7,1175.9L627.0,1175.9M592.5,1183.2L607.2,1183.2M533.9,1191.3L607.2,1191.3M545.7,1172.9L545.7,1205.2M554.4,1191.3L554.4,1207.4M564.7,1191.3L564.7,1207.4M575.7,1191.3L575.7,1207.4M591.1,1175.9L591.1,1207.4M512.0,1172.9L545.7,1172.9M512.0,1189.1L533.9,1189.1M511.2,1204.4L544.9,1204.4M605.7,1118.7L605.7,1126.8M521.5,1157.6L521.5,1204.4M533.9,1156.8L533.9,1204.4M511.2,1107.0L511.2,1209.6" stroke="#3a3a3a" stroke-width="0.68"/>
<clipPath id="c14"><polygon points="452.9,1104.1 496.8,1104.8 512.2,1107.8 511.5,1203.0 482.9,1197.8 482.2,1172.9 444.1,1165.6 450.7,1130.5 452.9,1107.0"/></clipPath>
<path d="M453.9,1094.9L433.7,1192.8M464.0,1097.0L443.7,1194.9M474.1,1099.1L453.8,1197.0M484.2,1101.2L463.9,1199.1M496.1,1103.7L475.9,1201.6M500.4,1104.5L480.2,1202.5M510.6,1106.7L490.4,1204.6M446.8,1106.2L525.1,1122.4M444.6,1116.9L522.9,1133.1M442.4,1127.5L520.7,1143.8M440.2,1138.2L518.5,1154.4M438.0,1148.9L516.3,1165.1M435.7,1159.6L514.1,1175.8M433.5,1170.2L511.9,1186.5M431.3,1180.9L509.7,1197.1M429.1,1191.6L507.5,1207.8" stroke="#1a1a1a" stroke-width="0.68" clip-path="url(#c14)"/>
<polyline points="444.1,1165.6 482.2,1172.9 482.9,1197.8 511.5,1203.0" stroke="#3a3a3a" stroke-width="0.68"/>
<clipPath id="c15"><polygon points="512.0,1108.5 542.0,1112.9 576.4,1116.5 575.7,1170.7 533.9,1161.2 533.9,1156.8 512.0,1157.6"/></clipPath>
<path d="M522.9,1105.5L506.7,1189.0M533.0,1107.5L516.7,1190.9M543.0,1109.4L526.7,1192.9M554.6,1111.7L538.4,1195.1M565.4,1113.8L549.2,1197.2M576.2,1115.9L560.0,1199.3M504.8,1119.3L578.4,1133.6M502.4,1131.3L576.1,1145.6M500.1,1143.3L573.7,1157.6M497.8,1155.2L571.4,1169.6M495.5,1167.2L569.1,1181.5M493.1,1179.2L566.8,1193.5" stroke="#1a1a1a" stroke-width="0.68" clip-path="url(#c15)"/>
<polyline points="512.0,1108.5 542.0,1112.9 576.4,1116.5" stroke="#3a3a3a" stroke-width="0.68"/>
<polyline points="533.9,1161.2 575.7,1170.7" stroke="#3a3a3a" stroke-width="0.68"/>
<path d="M398.7,1039.6 L423.6,1061.6 C433.8,1071.9 436.8,1089.4 454.4,1096.0 L526.6,1097.2 L533.9,1099.7 L554.4,1110.0" stroke="#d23f29" stroke-width="1.0"/>
<polygon points="398.7,1039.6 404.8,1042.4 402.2,1045.4" fill="#d23f29" stroke="none"/>
<path d="M371.6,1110.0 L447.0,1101.9 L493.9,1104.8 L498.8,1103.4 L503.2,1105.3 L554.4,1110.0 L624.8,1115.1" stroke="#d23f29" stroke-width="1.1"/>
<polygon points="371.6,1110.0 377.7,1107.3 378.2,1111.3" fill="#d23f29" stroke="none"/>
<polygon points="624.8,1115.1 618.2,1116.6 618.5,1112.6" fill="#d23f29" stroke="none"/>
<polyline points="408.9,1106.3 447.0,1102.3" stroke="#7a2a20" stroke-width="0.6"/>
<polyline points="496.1,1112.9 485.8,1162.7" stroke="#f8d8d1" stroke-width="2.0"/>
<polyline points="515.6,1029.4 478.5,1207.4" stroke="#d23f29" stroke-width="1.2" stroke-linejoin="round"/>
<polygon points="515.6,1029.4 516.3,1036.1 512.4,1035.3" fill="#d23f29" stroke="none"/>
<polygon points="478.5,1207.4 477.9,1200.7 481.8,1201.5" fill="#d23f29" stroke="none"/>
<circle cx="498.3" cy="1104.1" r="1.9" fill="#fdf1ee" stroke="none"/><circle cx="498.3" cy="1104.1" r="1.0" fill="#a81f14" stroke="none"/>
<polygon points="864.3,1094.0 927.0,1094.0 927.0,1126.2 864.3,1126.2" fill="#d6e6f2" stroke="none"/>
<clipPath id="c16"><polygon points="864.3,1094.0 927.0,1094.0 927.0,1126.2 864.3,1126.2"/></clipPath>
<path d="M876.1,1060.6L847.5,1145.9M886.3,1064.0L857.8,1149.3M896.4,1067.3L867.8,1152.7M906.3,1070.6L877.7,1156.0M911.2,1072.3L882.6,1157.6M920.1,1075.3L891.5,1160.6M930.6,1078.8L902.1,1164.1M846.4,1064.2L950.7,1099.1M842.8,1074.9L947.1,1109.8M839.2,1085.7L943.5,1120.6M835.6,1096.4L940.0,1131.3M832.1,1107.1L936.4,1142.0M828.5,1117.8L932.8,1152.7M824.9,1128.5L929.2,1163.4" stroke="#2c3e4c" stroke-width="0.68" clip-path="url(#c16)"/>
<polyline points="895.7,1126.2 927.0,1126.2 927.0,1138.3 887.5,1138.3" stroke="#ababab" stroke-width="0.9"/>
<polyline points="895.1,1126.2 895.1,1144.4" stroke="#ababab" stroke-width="0.9"/>
<polyline points="902.1,1094.0 891.3,1126.2" stroke="#f8d8d1" stroke-width="2.4"/>
<polyline points="904.8,1091.1 887.8,1138.5" stroke="#7a2a20" stroke-width="0.6"/>
<polyline points="904.2,1080.5 880.1,1152.6" stroke="#d23f29" stroke-width="1.2" stroke-linejoin="round"/>
<polygon points="904.2,1080.5 904.1,1087.2 900.3,1085.9" fill="#d23f29" stroke="none"/>
<polygon points="880.1,1152.6 880.2,1145.9 884.0,1147.1" fill="#d23f29" stroke="none"/>
<polygon points="104.2,1372.5 135.4,1376.4 131.7,1410.9 113.5,1408.1 108.6,1423.3 104.2,1422.8" fill="#d6e6f2" stroke="none"/>
<polyline points="104.2,1357.3 104.2,1408.1" stroke="#333" stroke-width="0.68"/>
<path d="M97.3,1389.3L104.2,1389.3M134.0,1389.3L143.2,1389.3" stroke="#333" stroke-width="0.68"/>
<path d="M104.2,1372.5L135.4,1376.4M104.2,1384.7L134.5,1388.6M104.2,1396.9L133.0,1399.8M104.2,1407.6L135.4,1411.5M114.4,1372.5L109.6,1408.1M120.3,1374.4L115.9,1408.1M130.1,1375.9L126.6,1410.1M135.4,1376.4L131.5,1410.6" stroke="#1a1a1a" stroke-width="0.68"/>
<polyline points="115.4,1364.2 114.4,1372.5" stroke="#333" stroke-width="0.68"/>
<polyline points="121.3,1365.2 120.3,1374.4" stroke="#333" stroke-width="0.68"/>
<polyline points="117.9,1373.0 113.0,1408.1" stroke="#f8d8d1" stroke-width="2.4"/>
<polyline points="119.8,1349.5 109.6,1437.4" stroke="#d23f29" stroke-width="1.2" stroke-linejoin="round"/>
<polygon points="119.8,1349.5 121.0,1356.1 117.1,1355.7" fill="#d23f29" stroke="none"/>
<polygon points="109.6,1437.4 108.3,1430.8 112.3,1431.3" fill="#d23f29" stroke="none"/>
<circle cx="114.7" cy="1394.5" r="1.9" fill="#fdf1ee" stroke="none"/><circle cx="114.7" cy="1394.5" r="1.0" fill="#a81f14" stroke="none"/>
<polygon points="371.7,1369.2 435.9,1369.2 426.2,1422.0 413.0,1421.1 391.1,1414.9 363.8,1408.8" fill="#d6e6f2" stroke="none"/>
<polyline points="300.5,1349.0 459.6,1349.0" stroke="#ababab" stroke-width="1.5"/>
<polyline points="306.7,1422.0 459.6,1422.0" stroke="#ababab" stroke-width="1.4"/>
<path d="M347.1,1349.0L334.8,1407.9M361.2,1349.0L349.8,1407.9M375.8,1349.0L363.8,1408.8M390.2,1349.0L377.9,1411.4M405.1,1349.0L391.1,1414.9M391.1,1414.9L386.7,1435.1M412.2,1349.0L398.1,1422.0M398.1,1422.0L395.5,1435.1M426.8,1349.0L413.0,1421.1M441.2,1349.0L426.2,1422.0M450.0,1379.8L441.2,1422.0M334.8,1357.3L346.2,1357.3M346.2,1357.3L458.7,1381.5M342.7,1372.2L459.6,1397.3M339.2,1388.2L459.6,1412.8M306.7,1372.2L306.7,1435.1M324.3,1372.2L324.3,1435.1M300.5,1372.2L342.7,1372.2M306.7,1388.2L339.2,1388.2M306.7,1408.4L360.3,1408.4M360.3,1408.4L391.1,1414.9M306.7,1435.1L386.7,1435.1M395.5,1435.1L411.6,1435.1M411.6,1422.0L411.6,1435.1M300.5,1413.2L306.7,1413.2M459.6,1412.8L459.6,1422.0M359.4,1408.4L359.4,1429.3" stroke="#333" stroke-width="0.68"/>
<polyline points="356.4,1435.1 356.4,1429.3 365.6,1429.3 365.6,1435.1" stroke="#333" stroke-width="0.68"/>
<polyline points="408.1,1349.9 395.5,1422.0" stroke="#f8d8d1" stroke-width="2.2"/>
<polyline points="410.9,1340.7 389.8,1443.9" stroke="#d23f29" stroke-width="1.2" stroke-linejoin="round"/>
<polygon points="410.9,1340.7 411.6,1347.4 407.7,1346.6" fill="#d23f29" stroke="none"/>
<polygon points="389.8,1443.9 389.2,1437.3 393.1,1438.1" fill="#d23f29" stroke="none"/>
<circle cx="403.9" cy="1374.8" r="1.8" fill="#fdf1ee" stroke="none"/><circle cx="403.9" cy="1374.8" r="0.9" fill="#a81f14" stroke="none"/>
<polygon points="638.7,1373.6 652.5,1372.5 657.3,1417.5 643.5,1419.1" fill="#d6e6f2" stroke="none"/>
<path d="M638.7,1373.6L652.7,1372.5M639.6,1381.5L653.5,1380.4M640.3,1388.4L654.3,1387.3M641.1,1395.8L655.0,1394.7M641.8,1403.2L655.8,1402.2M642.6,1410.1L656.5,1409.0M643.5,1418.6L657.4,1417.5M644.6,1372.5L650.9,1424.4M652.5,1372.5L657.3,1417.5M638.7,1373.6L643.5,1419.1" stroke="#1a1a1a" stroke-width="0.68"/>
<polyline points="620.2,1346.5 620.7,1351.3 630.3,1350.3 634.5,1384.2" stroke="#333" stroke-width="0.68"/>
<polyline points="623.9,1351.3 627.1,1372.5" stroke="#333" stroke-width="0.68"/>
<path d="M625.0,1359.3L630.8,1358.2M626.0,1366.7L631.3,1365.6M636.6,1351.3L638.7,1373.6M642.4,1350.8L644.6,1372.5M637.1,1357.7L645.6,1356.6M638.2,1365.6L646.7,1364.6M628.7,1390.0L635.0,1388.4M628.7,1390.0L631.3,1412.2M622.8,1397.9L635.0,1397.1M627.6,1405.3L636.1,1404.3M636.1,1404.3L637.1,1411.7M622.3,1421.2L638.7,1419.1M620.2,1436.6L668.9,1438.7" stroke="#333" stroke-width="0.68"/>
<polyline points="665.2,1351.8 664.7,1374.1 652.5,1373.6" stroke="#333" stroke-width="0.68"/>
<polyline points="626.0,1413.3 643.0,1411.2 667.9,1408.5 666.8,1440.3" stroke="#333" stroke-width="0.68"/>
<polyline points="635.6,1384.2 639.8,1437.1" stroke="#ababab" stroke-width="1.1"/>
<polyline points="631.3,1332.2 644.6,1452.5" stroke="#d23f29" stroke-width="1.2" stroke-linejoin="round"/>
<polygon points="631.3,1332.2 634.0,1338.4 630.0,1338.8" fill="#d23f29" stroke="none"/>
<polygon points="644.6,1452.5 641.9,1446.3 645.8,1445.9" fill="#d23f29" stroke="none"/>
<circle cx="638.2" cy="1392.6" r="1.9" fill="#fdf1ee" stroke="none"/><circle cx="638.2" cy="1392.6" r="1.0" fill="#a81f14" stroke="none"/>
<polygon points="919.7,1331.1 935.5,1331.1 936.1,1363.9 922.0,1363.3" fill="#f9ddd3" stroke="none"/>
<polygon points="883.9,1362.7 933.2,1363.9 936.1,1425.4 889.2,1428.4" fill="#d6e6f2" stroke="none"/>
<path d="M874.0,1363.0L878.3,1416.6M883.9,1363.0L889.2,1428.4M894.5,1363.0L899.6,1427.2M905.6,1363.0L910.8,1427.2M922.0,1363.0L927.2,1427.2M933.2,1363.0L936.2,1427.2M871.6,1383.0L933.8,1379.5M860.5,1395.3L934.3,1391.8M861.1,1405.9L934.9,1402.3M867.5,1417.0L935.5,1413.5M860.5,1362.2L916.2,1363.3M916.2,1363.3L933.2,1363.9M857.6,1427.2L889.2,1428.4M889.2,1428.4L936.1,1425.4M865.8,1396.7L865.8,1407.3M871.1,1371.5L903.3,1370.4M899.2,1428.4L902.1,1450.0M910.3,1427.2L912.7,1449.5M920.9,1426.0L923.2,1448.9M896.3,1439.5L922.0,1437.7M902.1,1450.0L934.9,1447.7M936.1,1425.4L936.7,1461.2M926.7,1426.0L929.7,1461.2M927.3,1436.6L936.1,1436.0M933.8,1402.0L939.6,1401.4M935.5,1330.5L936.7,1378.0M936.7,1378.0L933.8,1378.6M919.7,1331.1L922.0,1363.3M927.7,1331.1L929.1,1363.3M920.3,1341.6L935.5,1341.1M921.1,1352.8L935.9,1352.2M913.2,1331.1L915.6,1363.9" stroke="#333" stroke-width="0.68"/>
<path d="M855.8,1375.0 L903.3,1371.5 C912.7,1370.9 918.5,1361.6 922.0,1352.2 C925.6,1344.0 933.8,1336.4 948.4,1330.5" stroke="#d23f29" stroke-width="1.1"/>
<polygon points="855.8,1375.0 862.1,1372.6 862.4,1376.6" fill="#d23f29" stroke="none"/>
<polygon points="948.4,1330.5 943.5,1335.1 941.8,1331.5" fill="#d23f29" stroke="none"/>
<polyline points="916.8,1363.3 926.1,1461.2" stroke="#7a2a20" stroke-width="0.6"/>
<polyline points="913.8,1321.1 927.0,1468.2" stroke="#d23f29" stroke-width="1.2" stroke-linejoin="round"/>
<polygon points="913.8,1321.1 916.4,1327.3 912.4,1327.7" fill="#d23f29" stroke="none"/>
<polygon points="927.0,1468.2 924.4,1462.0 928.4,1461.7" fill="#d23f29" stroke="none"/>
</svg>
</body></html>
